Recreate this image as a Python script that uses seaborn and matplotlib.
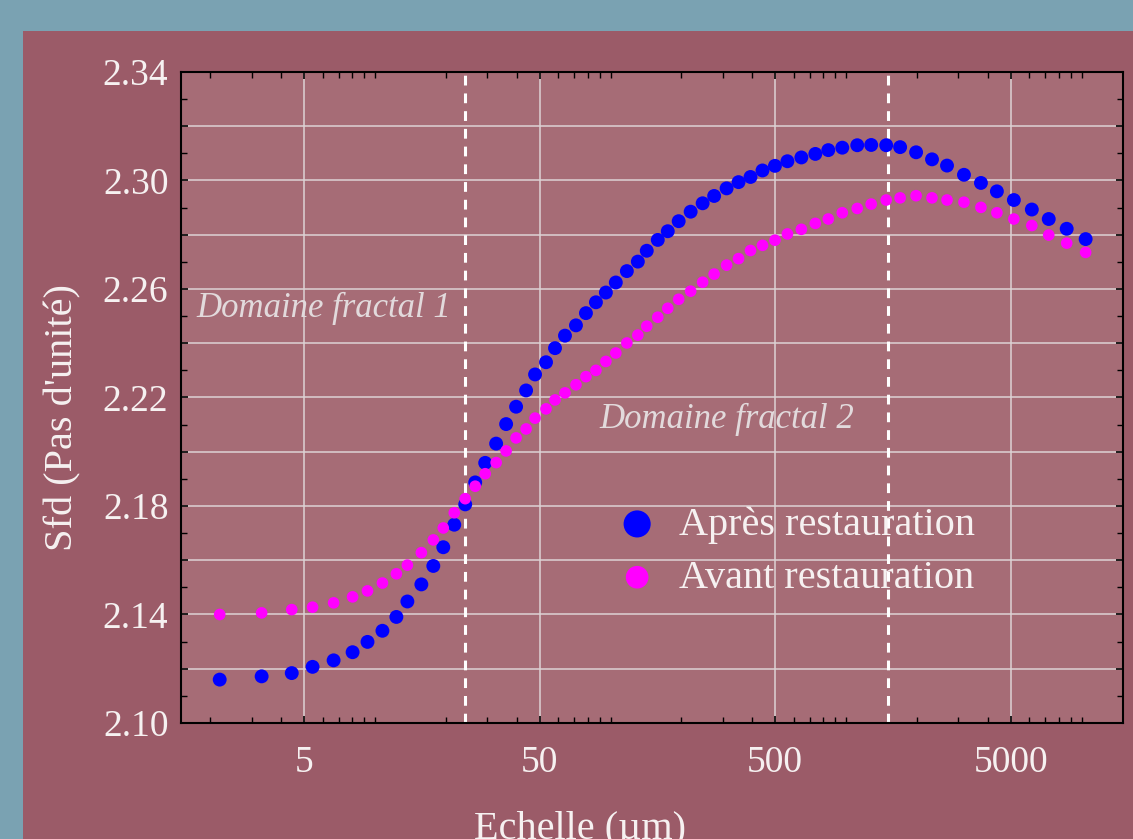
import matplotlib
matplotlib.use("Agg")
import matplotlib.pyplot as plt
import matplotlib.ticker as mticker
from matplotlib.patches import Rectangle
import seaborn as sns
import pandas as pd
import numpy as np

# Echelle (um) -- same scales for both series
echelle = [2.19, 3.30, 4.43, 5.43, 6.67, 8.03, 9.29, 10.75, 12.32, 13.72,
           15.73, 17.68, 19.49, 21.70, 24.15, 26.63, 29.36, 32.68, 36.03, 39.72,
           43.80, 47.81, 53.22, 58.11, 64.06, 71.32, 78.63, 86.69, 95.55, 105.3,
           117.3, 130.6, 142.5, 158.7, 175.0, 194.7, 218.9, 246.1, 275.4, 311.1,
           349.6, 393.0, 441.8, 499.1, 563.8, 646.2, 740.7, 840.8, 964.0, 1116,
           1279, 1481, 1697, 1984, 2318, 2684, 3168, 3740, 4371, 5160,
           6151, 7257, 8650, 10410]

sfd_apres = [2.1160, 2.1172, 2.1184, 2.1207, 2.1231, 2.1261, 2.1299, 2.1340, 2.1391, 2.1448,
             2.1511, 2.1579, 2.1648, 2.1731, 2.1806, 2.1887, 2.1959, 2.2030, 2.2102, 2.2166,
             2.2226, 2.2285, 2.2330, 2.2382, 2.2428, 2.2466, 2.2511, 2.2551, 2.2587, 2.2624,
             2.2666, 2.2701, 2.2741, 2.2781, 2.2813, 2.2850, 2.2885, 2.2916, 2.2943, 2.2971,
             2.2994, 2.3013, 2.3037, 2.3054, 2.3071, 2.3085, 2.3098, 2.3112, 2.3121, 2.3130,
             2.3131, 2.3130, 2.3123, 2.3104, 2.3078, 2.3055, 2.3021, 2.2991, 2.2960, 2.2928,
             2.2893, 2.2858, 2.2822, 2.2784]

sfd_avant = [2.1400, 2.1406, 2.1418, 2.1427, 2.1443, 2.1465, 2.1487, 2.1516, 2.1550, 2.1582,
             2.1628, 2.1675, 2.1719, 2.1775, 2.1827, 2.1873, 2.1919, 2.1960, 2.2003, 2.2051,
             2.2084, 2.2124, 2.2158, 2.2191, 2.2217, 2.2247, 2.2277, 2.2300, 2.2333, 2.2364,
             2.2401, 2.2430, 2.2463, 2.2496, 2.2529, 2.2562, 2.2592, 2.2625, 2.2655, 2.2688,
             2.2712, 2.2742, 2.2761, 2.2780, 2.2803, 2.2820, 2.2842, 2.2858, 2.2881, 2.2897,
             2.2913, 2.2928, 2.2936, 2.2944, 2.2936, 2.2928, 2.2920, 2.2901, 2.2881, 2.2858,
             2.2834, 2.2799, 2.2769, 2.2735]

domain_limits = [24, 1500]
x_major = [5, 50, 500, 5000]

df = pd.DataFrame({'Echelle': echelle, 'Apres': sfd_apres, 'Avant': sfd_avant})

sns.set_style("ticks")
plt.rcParams['font.family'] = ['Liberation Serif', 'DejaVu Serif']

teal = '#7aa2b2'
maroon = '#9b5b68'
face = '#a66c76'
txt = '#f6f1f1'

fig = plt.figure(figsize=(11.33, 8.39), dpi=100, facecolor=teal)
fig.patches.append(Rectangle((23 / 1133, 0), 1, 1 - 31 / 839, transform=fig.transFigure,
                             facecolor=maroon, edgecolor='none', zorder=-1))

ax = fig.add_axes([181 / 1133, 1 - 723 / 839, 942 / 1133, 651 / 839])
ax.set_facecolor(face)

sns.scatterplot(data=df, x='Echelle', y='Apres', ax=ax, color='#0000ff', s=100,
                edgecolor='none', label='Après restauration', zorder=3)
sns.scatterplot(data=df, x='Echelle', y='Avant', ax=ax, color='#ff00ff', s=70,
                edgecolor='none', label='Avant restauration', zorder=3)

# limites des domaines fractals
for xv in domain_limits:
    ax.axvline(xv, color='white', lw=2.2, ls=(0, (3.2, 2.6)), zorder=2)

ax.set_xscale('log')
ax.set_xlim(1.5, 15000)
ax.set_ylim(2.10, 2.34)

ax.xaxis.set_major_locator(mticker.FixedLocator(x_major))
ax.xaxis.set_major_formatter(mticker.FixedFormatter([str(v) for v in x_major]))
ax.xaxis.set_minor_locator(mticker.LogLocator(base=10, subs=np.arange(1, 10), numticks=100))
ax.xaxis.set_minor_formatter(mticker.NullFormatter())

ax.yaxis.set_major_locator(mticker.MultipleLocator(0.02))
ax.yaxis.set_minor_locator(mticker.MultipleLocator(0.01))
ax.yaxis.set_major_formatter(mticker.FuncFormatter(
    lambda v, p: f'{v:.2f}' if round(v * 100) % 4 == 2 else ''))

ax.grid(True, which='major', color='#ddd3d5', lw=1.1, zorder=1)
ax.set_axisbelow(True)

ax.tick_params(which='both', direction='in', top=True, right=True, color='black',
               labelcolor=txt, labelsize=27)
ax.tick_params(which='major', length=5, width=1.2)
ax.tick_params(which='minor', length=4, width=1.0)
ax.tick_params(axis='x', pad=16)
ax.tick_params(axis='y', pad=9)
for sp in ax.spines.values():
    sp.set_color('black')
    sp.set_linewidth(1.5)

ax.set_xlabel('')
ax.set_ylabel('')
fig.text(580 / 1133, 0.0, 'Echelle (µm)', ha='center', va='baseline',
         color=txt, fontsize=29)
fig.text(63 / 1133, 1 - 418 / 839, "Sfd (Pas d'unité)", ha='center', va='center',
         rotation=90, color=txt, fontsize=29)

ax.text(1.75, 2.253, 'Domaine fractal 1', style='italic', color='#e2dadc',
        fontsize=25, va='center', ha='left')
ax.text(90, 2.212, 'Domaine fractal 2', style='italic', color='#e2dadc',
        fontsize=25, va='center', ha='left')

leg = ax.legend(loc='upper left', bbox_to_anchor=(617 / 1133, 1 - 506 / 839),
                bbox_transform=fig.transFigure, frameon=False, markerscale=1.95,
                fontsize=29, handlelength=1.0, handletextpad=0.55,
                labelspacing=0.4, borderpad=0, borderaxespad=0)
for t in leg.get_texts():
    t.set_color(txt)

fig.savefig('out.png', dpi=100, facecolor=fig.get_facecolor())
